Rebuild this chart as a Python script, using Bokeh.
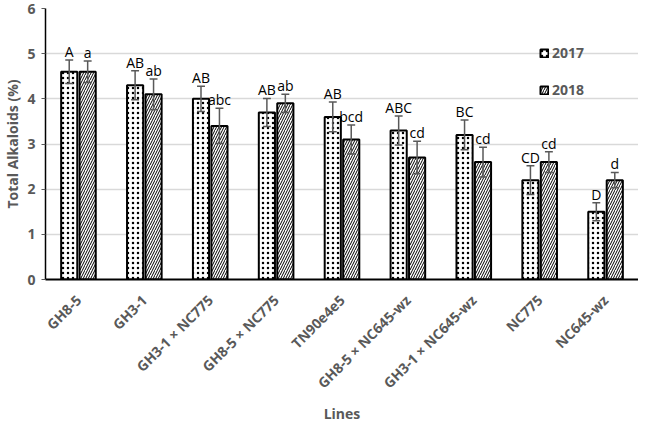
import math
from bokeh.plotting import figure
from bokeh.models import ColumnDataSource, FactorRange, Range1d, Legend, LegendItem, FixedTicker
from bokeh.transform import dodge
from bokeh.core.properties import value
from bokeh.embed import file_html
from bokeh.resources import INLINE

lines = ["GH8-5", "GH3-1", "GH3-1 \u00d7 NC775", "GH8-5 \u00d7 NC775", "TN90e4e5",
         "GH8-5 \u00d7 NC645-wz", "GH3-1 \u00d7 NC645-wz", "NC775", "NC645-wz"]
y2017 = [4.6, 4.3, 4.0, 3.7, 3.6, 3.3, 3.2, 2.2, 1.5]
y2018 = [4.6, 4.1, 3.4, 3.9, 3.1, 2.7, 2.6, 2.6, 2.2]
err2017 = [0.26, 0.32, 0.28, 0.31, 0.33, 0.32, 0.33, 0.32, 0.20]
err2018 = [0.24, 0.34, 0.39, 0.20, 0.32, 0.36, 0.33, 0.23, 0.17]
let2017 = ["A", "AB", "AB", "AB", "AB", "ABC", "BC", "CD", "D"]
let2018 = ["a", "ab", "abc", "ab", "bcd", "cd", "cd", "cd", "d"]
y_ticks = [0, 1, 2, 3, 4, 5, 6]

FONT = "Open Sans"
GRAY = "#595959"

src = ColumnDataSource(dict(
    lines=lines, y17=y2017, y18=y2018,
    lo17=[v - e for v, e in zip(y2017, err2017)], hi17=[v + e for v, e in zip(y2017, err2017)],
    lo18=[v - e for v, e in zip(y2018, err2018)], hi18=[v + e for v, e in zip(y2018, err2018)],
    l17=let2017, l18=let2018,
))

p = figure(width=638, height=425, x_range=FactorRange(*lines, range_padding=0),
           y_range=Range1d(0, 6), output_backend="svg", toolbar_location=None,
           min_border_left=40, min_border_top=8, min_border_right=0, min_border_bottom=0)
p.outline_line_color = None
p.background_fill_color = "white"
p.border_fill_color = "white"

OFF = 0.14
BW = 0.245
r17 = p.vbar(x=dodge("lines", -OFF, range=p.x_range), top="y17", width=BW, source=src,
             fill_color="white", line_color="black", line_width=2,
             hatch_pattern="dot", hatch_color="black", hatch_scale=5, hatch_weight=1.5)
r18 = p.vbar(x=dodge("lines", OFF, range=p.x_range), top="y18", width=BW, source=src,
             fill_color="white", line_color="black", line_width=2,
             hatch_pattern="right_diagonal_line", hatch_color="black", hatch_scale=5, hatch_weight=1)

for off, lo, hi, lab in [(-OFF, "lo17", "hi17", "l17"), (OFF, "lo18", "hi18", "l18")]:
    xd = dodge("lines", off, range=p.x_range)
    p.segment(x0=xd, x1=xd, y0=lo, y1=hi, source=src, line_color=GRAY, line_width=1.5)
    xl = dodge("lines", off - 0.06, range=p.x_range)
    xr = dodge("lines", off + 0.06, range=p.x_range)
    p.segment(x0=xl, x1=xr, y0=hi, y1=hi, source=src, line_color=GRAY, line_width=1.5)
    p.segment(x0=xl, x1=xr, y0=lo, y1=lo, source=src, line_color=GRAY, line_width=1.5)
    p.text(x=xd, y=hi, text=lab, source=src, text_align="center", text_baseline="bottom",
           text_font=value(FONT), text_font_size="14px", text_color="black", y_offset=1)

# axes
p.xgrid.grid_line_color = None
p.ygrid.grid_line_color = "#d9d9d9"
p.ygrid.grid_line_width = 1.5
p.yaxis.ticker = FixedTicker(ticks=y_ticks)
p.yaxis.axis_line_color = "black"
p.yaxis.axis_line_width = 1.5
p.yaxis.major_tick_line_color = GRAY
p.yaxis.major_tick_out = 4
p.yaxis.major_tick_in = 0
p.yaxis.minor_tick_line_color = None
p.yaxis.major_label_text_font = FONT
p.yaxis.major_label_text_font_style = "bold"
p.yaxis.major_label_text_font_size = "14px"
p.yaxis.major_label_text_color = GRAY
p.yaxis.major_label_standoff = 6
p.yaxis.axis_label = "Total Alkaloids (%)"
p.yaxis.axis_label_text_font = FONT
p.yaxis.axis_label_text_font_style = "bold"
p.yaxis.axis_label_text_font_size = "14px"
p.yaxis.axis_label_text_color = GRAY
p.yaxis.axis_label_standoff = 2

p.xaxis.axis_line_color = "black"
p.xaxis.axis_line_width = 2
p.xaxis.major_tick_line_color = None
p.xaxis.minor_tick_line_color = None
p.xaxis.major_label_orientation = math.pi / 4
p.xaxis.major_label_text_font = FONT
p.xaxis.major_label_text_font_style = "bold"
p.xaxis.major_label_text_font_size = "14px"
p.xaxis.major_label_text_color = GRAY
p.xaxis.major_label_standoff = 12
p.xaxis.axis_label = "Lines"
p.xaxis.axis_label_text_font = FONT
p.xaxis.axis_label_text_font_style = "bold"
p.xaxis.axis_label_text_font_size = "14px"
p.xaxis.axis_label_text_color = GRAY
p.xaxis.axis_label_standoff = 2

legend = Legend(items=[LegendItem(label="2017", renderers=[r17]),
                       LegendItem(label="2018", renderers=[r18])],
                location=(494, 180), orientation="vertical",
                glyph_width=10, glyph_height=10, spacing=18, padding=0, margin=0,
                label_text_font=FONT, label_text_font_style="bold", label_text_font_size="14px",
                label_text_color=GRAY, label_standoff=3, border_line_color=None,
                background_fill_alpha=0)
p.add_layout(legend, "center")

open("out.html", "w").write(file_html(p, INLINE))
